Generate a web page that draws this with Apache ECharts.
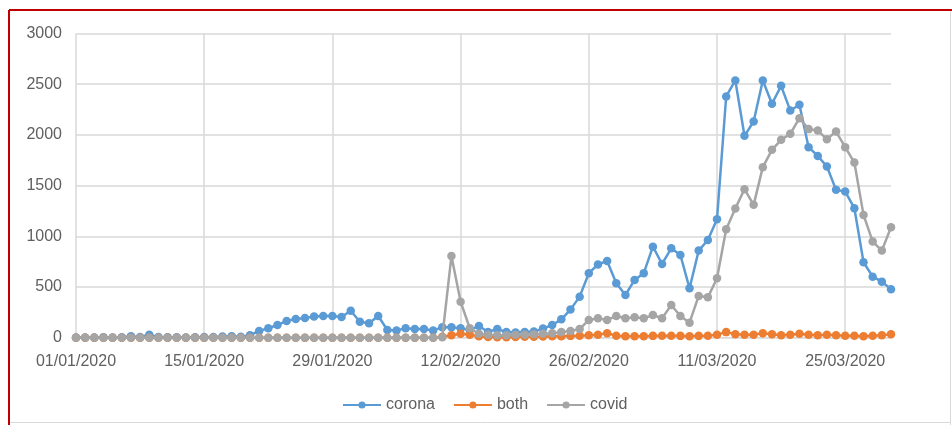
<!DOCTYPE html>
<html>
<head>
<meta charset="utf-8">
<style>
  html, body { margin: 0; padding: 0; background: #ffffff; }
  #chart { width: 952px; height: 425px; }
</style>
<script src="https://cdn.jsdelivr.net/npm/echarts@6/dist/echarts.min.js"></script>
</head>
<body>
<div id="chart"></div>
<script>
// Daily mention counts, 01/01/2020 to 30/03/2020 (90 days)
const firstDay = Date.UTC(2020, 0, 1);
const dayCount = 90;
const dates = [];
for (let i = 0; i < dayCount; i++) {
  const d = new Date(firstDay + i * 86400000);
  const dd = String(d.getUTCDate()).padStart(2, '0');
  const mm = String(d.getUTCMonth() + 1).padStart(2, '0');
  dates.push(dd + '/' + mm + '/' + d.getUTCFullYear());
}

const seriesNames = ['corona', 'both', 'covid'];

const corona = [
  2, 3, 2, 4, 3, 5, 15, 8, 30, 6,
  4, 5, 3, 4, 6, 8, 12, 15, 10, 25,
  66, 93, 125, 165, 185, 194, 210, 215, 214, 205,
  266, 158, 142, 214, 76, 72, 93, 86, 86, 72,
  102, 102, 93, 76, 115, 56, 86, 55, 52, 55,
  60, 90, 125, 181, 277, 405, 636, 722, 757, 537,
  421, 570, 636, 898, 727, 882, 816, 487, 859, 964,
  1169, 2379, 2537, 1991, 2132, 2537, 2307, 2484, 2240, 2297,
  1879, 1793, 1688, 1458, 1441, 1277, 744, 602, 553, 478
];

const both = [
  0, 0, 0, 0, 0, 0, 0, 0, 0, 0,
  0, 0, 0, 0, 0, 0, 0, 0, 0, 0,
  0, 0, 0, 0, 0, 0, 0, 0, 0, 0,
  0, 0, 0, 0, 0, 0, 0, 0, 0, 0,
  10, 25, 40, 30, 15, 8, 5, 5, 8, 10,
  10, 12, 15, 15, 18, 20, 25, 30, 45, 20,
  15, 15, 15, 18, 20, 20, 18, 15, 18, 20,
  30, 55, 35, 30, 30, 45, 35, 25, 30, 40,
  30, 25, 30, 25, 20, 20, 15, 20, 25, 35
];

const covid = [
  0, 0, 0, 0, 0, 0, 0, 0, 0, 0,
  0, 0, 0, 0, 0, 0, 0, 0, 0, 0,
  0, 0, 0, 0, 0, 0, 0, 0, 0, 0,
  0, 0, 0, 0, 0, 0, 0, 0, 0, 0,
  5, 806, 355, 93, 40, 30, 25, 25, 30, 30,
  35, 40, 45, 55, 65, 85, 175, 191, 175, 214,
  191, 201, 191, 224, 191, 323, 214, 148, 412, 398,
  586, 1070, 1275, 1465, 1310, 1682, 1853, 1951, 2011, 2165,
  2057, 2043, 1958, 2033, 1879, 1727, 1211, 948, 859, 1090
];

const yTicks = [0, 500, 1000, 1500, 2000, 2500, 3000];

const colors = ['#5B9BD5', '#ED7D31', '#A5A5A5'];
const values = [corona, both, covid];

const chart = echarts.init(document.getElementById('chart'), null, { renderer: 'canvas' });

const textStyle = { color: '#606060', fontFamily: 'Liberation Sans, Arial, sans-serif', fontSize: 16 };

chart.setOption({
  animation: false,
  backgroundColor: '#ffffff',
  color: colors,
  grid: { left: 76, right: 61, top: 33.5, bottom: 87.3, containLabel: false },
  legend: {
    data: seriesNames,
    top: 392,
    left: 337,
    itemWidth: 38,
    itemHeight: 9,
    itemGap: 18,
    textStyle: textStyle
  },
  xAxis: {
    type: 'category',
    data: dates,
    boundaryGap: false,
    axisLine: { show: true, lineStyle: { color: '#d9d9d9', width: 1 } },
    axisTick: { show: false },
    axisLabel: { ...textStyle, interval: 13, margin: 16 },
    splitLine: { show: true, interval: 13, lineStyle: { color: '#d9d9d9', width: 1.5 } }
  },
  yAxis: {
    type: 'value',
    min: yTicks[0],
    max: yTicks[yTicks.length - 1],
    interval: yTicks[1] - yTicks[0],
    axisLine: { show: false },
    axisTick: { show: false },
    axisLabel: { ...textStyle, margin: 14, formatter: (v) => String(v) },
    splitLine: { show: true, lineStyle: { color: '#d9d9d9', width: 1.5 } }
  },
  series: seriesNames.map((name, i) => ({
    name: name,
    type: 'line',
    data: values[i],
    symbol: 'circle',
    symbolSize: 8.5,
    showSymbol: true,
    showAllSymbol: true,
    lineStyle: { width: 2.5, color: colors[i] },
    itemStyle: { color: colors[i] },
    z: 2 + i
  })),
  graphic: [
    // outer frame: red on the left and top, thin grey on the right and bottom
    { type: 'line', shape: { x1: 9, y1: 10, x2: 952, y2: 10 }, style: { stroke: '#c00000', lineWidth: 2 }, z: 100 },
    { type: 'line', shape: { x1: 9, y1: 10, x2: 9, y2: 425 }, style: { stroke: '#c00000', lineWidth: 2 }, z: 100 },
    { type: 'line', shape: { x1: 950.5, y1: 11, x2: 950.5, y2: 425 }, style: { stroke: '#d9d9d9', lineWidth: 1 }, z: 100 },
    { type: 'line', shape: { x1: 10, y1: 422.5, x2: 951, y2: 422.5 }, style: { stroke: '#d9d9d9', lineWidth: 1 }, z: 100 }
  ]
});
</script>
</body>
</html>
